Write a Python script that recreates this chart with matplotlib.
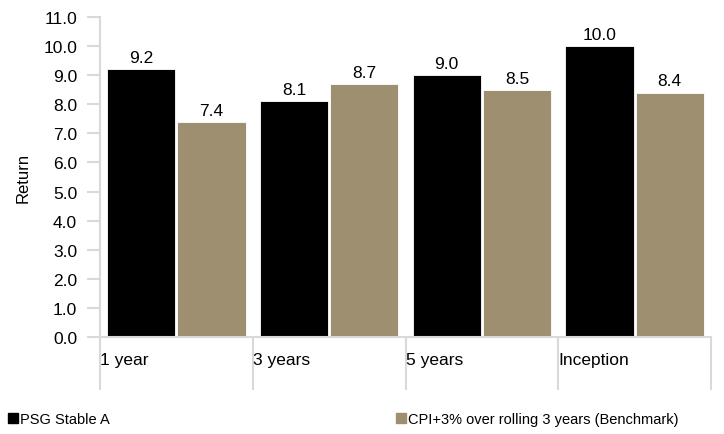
import matplotlib.pyplot as plt
import matplotlib.transforms as mtransforms
from matplotlib.patches import Patch

plt.rcParams['font.family'] = ['Liberation Sans', 'DejaVu Sans']

categories = ['1 year', '3 years', '5 years', 'Inception']
fund = [9.2, 8.1, 9.0, 10.0]
bench = [7.4, 8.7, 8.5, 8.4]
fund_name = 'PSG Stable A'
bench_name = 'CPI+3% over rolling 3 years (Benchmark)'
yticks = [i * 1.0 for i in range(12)]

grey = '#d9d9d9'
black = '#000000'
khaki = '#9d8f6f'

fig = plt.figure(figsize=(7.24, 4.35), dpi=100)
ax = fig.add_axes([100 / 724, 1 - 338 / 435, 611 / 724, 320 / 435])

w = 0.447
xs = list(range(len(categories)))
b1 = ax.bar([x + 0.27 for x in xs], fund, width=w, color=black, edgecolor='white', linewidth=0.6)
b2 = ax.bar([x + 0.73 for x in xs], bench, width=w, color=khaki, edgecolor='white', linewidth=0.6)

for bars, vals in ((b1, fund), (b2, bench)):
    for r, v in zip(bars, vals):
        ax.annotate(f'{v:.1f}', (r.get_x() + r.get_width() / 2, v), xytext=(0, 3),
                    textcoords='offset points', ha='center', va='bottom', fontsize=12.5)

ax.set_xlim(0, len(categories))
ax.set_ylim(0, 11)
ax.set_yticks(yticks)
ax.set_yticklabels([f'{t:.1f}' for t in yticks], fontsize=12.5)
ax.set_xticks(range(len(categories) + 1))
ax.set_xticklabels([])
ax.tick_params(axis='y', length=9.5, width=1.5, color=grey, pad=7)
ax.tick_params(axis='x', length=38, width=1.5, color=grey)

for s in ('top', 'right'):
    ax.spines[s].set_visible(False)
for s in ('left', 'bottom'):
    ax.spines[s].set_color(grey)
    ax.spines[s].set_linewidth(1.5)

trans = mtransforms.blended_transform_factory(ax.transData, ax.transAxes)
for i, c in enumerate(categories):
    ax.text(i + 0.003, -23 / 320, c, transform=trans, ha='left', va='center', fontsize=12.5)

ax.set_ylabel('Return', fontsize=12, labelpad=9)

fig.legend(handles=[Patch(color=black)], labels=[fund_name], loc='center left',
           bbox_to_anchor=(8 / 724, 1 - 420 / 435), frameon=False, fontsize=10.5,
           handlelength=0.7, handleheight=0.7, handletextpad=0.15, borderpad=0, borderaxespad=0)
fig.legend(handles=[Patch(color=khaki)], labels=[bench_name], loc='center left',
           bbox_to_anchor=(396 / 724, 1 - 420 / 435), frameon=False, fontsize=10.5,
           handlelength=0.7, handleheight=0.7, handletextpad=0.15, borderpad=0, borderaxespad=0)

fig.savefig('out.png', dpi=100)
